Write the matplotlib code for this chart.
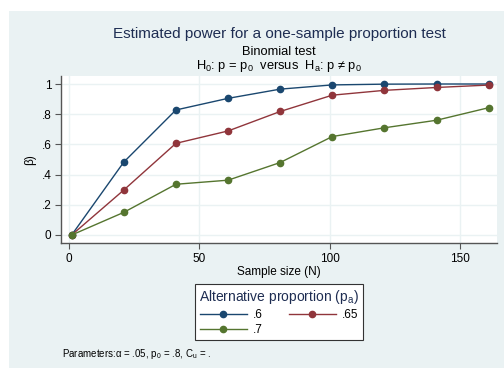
import matplotlib
matplotlib.use("Agg")
import matplotlib.pyplot as plt
from matplotlib.patches import Rectangle

plt.rcParams['font.family'] = ['Liberation Sans', 'DejaVu Sans']
plt.rcParams['mathtext.fontset'] = 'custom'
plt.rcParams['mathtext.rm'] = 'Liberation Sans'
plt.rcParams['mathtext.it'] = 'Liberation Sans'

# data
sample_n = [1, 21, 41, 61, 81, 101, 121, 141, 161]
power_60 = [0.0, 0.483, 0.828, 0.905, 0.966, 0.994, 0.999, 1.0, 1.0]
power_65 = [0.0, 0.298, 0.607, 0.689, 0.818, 0.926, 0.958, 0.977, 0.993]
power_70 = [0.0, 0.150, 0.336, 0.363, 0.480, 0.652, 0.710, 0.760, 0.843]
labels = [".6", ".65", ".7"]
colors = ["#1a476f", "#90353b", "#55752f"]

W, H = 504, 368
fig = plt.figure(figsize=(W / 100, H / 100), dpi=100, facecolor="white")

# light graph region
fig.add_artist(Rectangle((9 / W, 0), 1 - 9 / W, 1 - 11 / H,
                         transform=fig.transFigure, facecolor="#eaf2f3",
                         edgecolor="none", zorder=-5))

ax = fig.add_axes([61 / W, (H - 243) / H, 436 / W, 167 / H])
ax.set_zorder(1)
ax.set_facecolor("white")

lines = []
for y, c, lab in zip([power_60, power_65, power_70], colors, labels):
    ln, = ax.plot(sample_n, y, color=c, lw=1.0, marker="o", ms=4.5,
                  label=lab, zorder=3)
    lines.append(ln)

ax.set_xlim(-3.1, 164.2)
ax.set_ylim(-0.053, 1.053)
ax.set_xticks([0, 50, 100, 150])
ax.set_xticklabels(["0", "50", "100", "150"])
ax.set_yticks([0, 0.2, 0.4, 0.6, 0.8, 1.0])
ax.set_yticklabels(["0", ".2", ".4", ".6", ".8", "1"])
ax.grid(True, color="#eaf2f3", lw=1.0, zorder=0)
ax.set_axisbelow(True)

for s in ["top", "right"]:
    ax.spines[s].set_visible(False)
for s in ["left", "bottom"]:
    ax.spines[s].set_color("#555555")
    ax.spines[s].set_linewidth(1.0)
ax.tick_params(length=4, width=0.8, color="#555555", labelsize=8.5,
               labelcolor="black", pad=3)

ax.set_xlabel("Sample size (N)", fontsize=8.5, labelpad=1)
ax.set_ylabel("β)", fontsize=8.5, labelpad=4)

# titles
fig.text(279 / W, 1 - 34 / H, "Estimated power for a one-sample proportion test",
         ha="center", va="center", fontsize=11, color="#1e2d52")
fig.text(279 / W, 1 - 52 / H, "Binomial test", ha="center", va="center",
         fontsize=9.3)
fig.text(279 / W, 1 - 66 / H,
         r"H$_0$: p = p$_0$  versus  H$_a$: p ≠ p$_0$",
         ha="center", va="center", fontsize=9.3)

leg = fig.legend([lines[0], lines[2], lines[1]], [labels[0], labels[2], labels[1]],
                 ncol=2, loc="upper center", bbox_to_anchor=(279 / W, 1 - 284 / H),
                 title="Alternative proportion (p$_a$)", fontsize=8.5,
                 title_fontsize=10, frameon=True, fancybox=False,
                 edgecolor="#333333", framealpha=1, handlelength=4.0,
                 handletextpad=0.5, columnspacing=2.2, borderpad=0.35,
                 labelspacing=0.25, borderaxespad=0)
leg.get_title().set_color("#1e2d52")
leg.get_frame().set_linewidth(0.8)

fig.text(62 / W, 1 - 354 / H, r"Parameters:$\alpha$ = .05, p$_0$ = .8, C$_u$ = .",
         ha="left", va="center", fontsize=7)

fig.savefig("out.png", dpi=100, facecolor="white")
